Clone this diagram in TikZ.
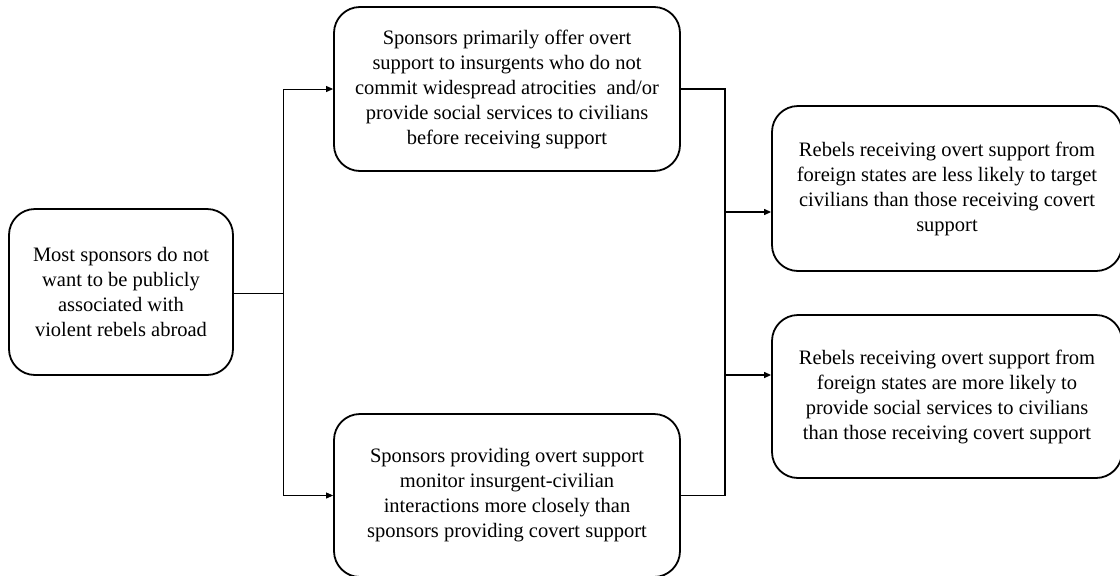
\documentclass[tikz,border=0pt]{standalone}
\usepackage{fontspec}
\setmainfont{Liberation Serif}
\usetikzlibrary{arrows.meta}
\begin{document}
\begin{tikzpicture}[x=1pt,y=-1pt,
  box/.style={draw=black,line width=1.8pt,rounded corners=26pt,align=center,
    inner sep=0pt,font=\fontsize{20.5}{25}\selectfont},
  thin/.style={line width=0.9pt},
  mid/.style={line width=1.2pt},
  thick/.style={line width=1.8pt},
  tip/.style={-{Triangle[length=7pt,width=6pt]}}]
\useasboundingbox (0,0) rectangle (1120,576);
\node[box,minimum width=224pt,minimum height=166pt] (src) at (121,292)
  {Most sponsors do not\\want to be publicly\\associated with\\violent rebels abroad};
\node[box,minimum width=346pt,minimum height=164pt] (top) at (507,89)
  {Sponsors primarily offer overt\\support to insurgents who do not\\commit widespread atrocities~ and/or\\provide social services to civilians\\before receiving support};
\node[box,minimum width=346pt,minimum height=163pt] (bot) at (507,495.5)
  {Sponsors providing overt support\\monitor insurgent-civilian\\interactions more closely than\\sponsors providing covert support};
\node[box,minimum width=350pt,minimum height=165pt] (rt) at (947,188.5)
  {Rebels receiving overt support from\\foreign states are less likely to target\\civilians than those receiving covert\\support};
\node[box,minimum width=350pt,minimum height=163pt] (rb) at (947,396.5)
  {Rebels receiving overt support from\\foreign states are more likely to\\provide social services to civilians\\than those receiving covert support};
\coordinate (j1) at (283,293);
\coordinate (j2) at (725,89);
\coordinate (j3) at (725,495.5);
\coordinate (j4) at (725,212);
\coordinate (j5) at (725,375);
\draw[thin] (src.east |- j1) -- (j1);
\draw[thin,tip] (j1) |- (top.west);
\draw[thin,tip] (j1) |- (bot.west);
\draw[thick] (top.east) -- (j2) -- (j3) -- (bot.east);
\draw[mid,tip] (j4) -- (rt.west |- j4);
\draw[mid,tip] (j5) -- (rb.west |- j5);
\end{tikzpicture}
\end{document}
